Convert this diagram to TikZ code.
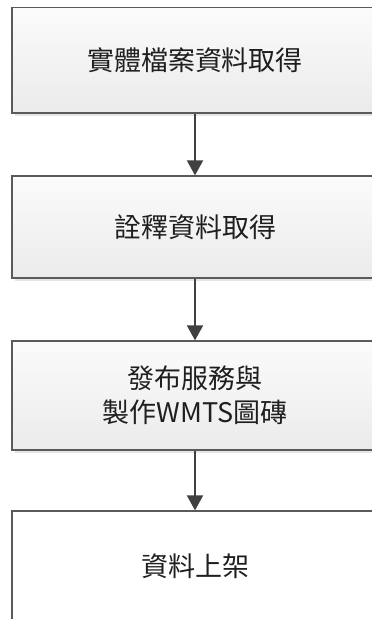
\documentclass[tikz,border=0pt]{standalone}
\usepackage{fontspec}
\setmainfont{Noto Sans CJK TC}
\usetikzlibrary{arrows.meta,shadows}
\definecolor{bordc}{HTML}{5A5A5A}
\definecolor{arrc}{HTML}{404040}
\definecolor{toptc}{HTML}{FBFBFB}
\definecolor{botc}{HTML}{EBEBEB}
\definecolor{shadc}{HTML}{E6E6E6}
\begin{document}
\begin{tikzpicture}[x=1pt,y=-1pt,
  stepbox/.style={draw=bordc, line width=1.3pt, rectangle, minimum width=366pt,
    top color=toptc, bottom color=botc, align=center, text=black!88,
    font=\fontsize{27}{34}\selectfont,
    drop shadow={shadow xshift=3pt, shadow yshift=-3pt, fill=shadc, opacity=1}},
  lastbox/.style={draw=bordc, line width=1.3pt, rectangle, minimum width=366pt,
    fill=white, align=center, text=black!88, font=\fontsize{27}{34}\selectfont},
  flow/.style={draw=arrc, line width=2pt, -{Triangle[width=16pt,length=15pt]}}]
\useasboundingbox (0,0) rectangle (372,619);
\clip (0,0) rectangle (372,619);
\fill[white] (0,0) rectangle (372,619);
\node[stepbox, minimum height=105.5pt] (b1) at (195,60.25) {實體檔案資料取得};
\node[stepbox, minimum height=102pt] (b2) at (195,227) {詮釋資料取得};
\node[stepbox, minimum height=109pt] (b3) at (195,395.5) {發布服務與\\製作WMTS圖磚};
\node[lastbox, minimum height=111pt] (b4) at (195,566.5) {資料上架};
\draw[flow] (b1.south) -- (b2.north);
\draw[flow] (b2.south) -- (b3.north);
\draw[flow] (b3.south) -- (b4.north);
\end{tikzpicture}
\end{document}
